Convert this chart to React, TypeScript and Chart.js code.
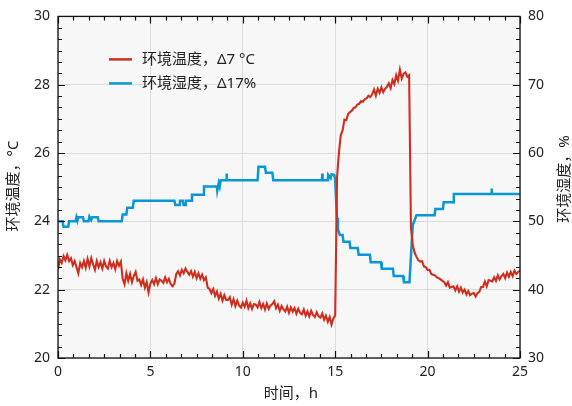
import React, { useEffect, useRef } from "react";
import { Chart, registerables } from "chart.js";

Chart.register(...registerables);

// Temperature (°C), sampled every 0.1 h from 0 to 25 h
const tempStep = 0.1;
const temperature = [
  22.6, 22.88, 22.78, 22.98, 22.86, 23.02, 22.84, 22.92, 22.72, 22.84,
  22.66, 22.48, 22.78, 22.66, 22.84, 22.64, 22.9, 22.68, 22.92, 22.74,
  22.58, 22.84, 22.66, 22.8, 22.62, 22.84, 22.68, 22.62, 22.84, 22.66,
  22.78, 22.6, 22.84, 22.7, 22.82, 22.32, 22.16, 22.48, 22.26, 22.46,
  22.22, 22.4, 22.52, 22.26, 22.3, 22.14, 22.3, 22.06, 22.22, 21.92,
  22.18, 22.28, 22.16, 22.34, 22.16, 22.3, 22.26, 22.2, 22.36, 22.22,
  22.32, 22.16, 22.1, 22.18, 22.46, 22.54, 22.42, 22.58, 22.48, 22.62,
  22.52, 22.44, 22.54, 22.38, 22.52, 22.34, 22.48, 22.32, 22.44, 22.28,
  22.36, 22.06, 22.02, 21.9, 22.02, 21.82, 21.94, 21.74, 21.88, 21.68,
  21.84, 21.7, 21.7, 21.78, 21.56, 21.72, 21.52, 21.68, 21.54, 21.48,
  21.62, 21.5, 21.68, 21.46, 21.6, 21.44, 21.58, 21.56, 21.48, 21.64,
  21.46, 21.58, 21.42, 21.6, 21.44, 21.54, 21.58, 21.66, 21.46, 21.56,
  21.38, 21.52, 21.42, 21.36, 21.5, 21.32, 21.48, 21.36, 21.46, 21.3,
  21.44, 21.32, 21.28, 21.42, 21.24, 21.36, 21.22, 21.38, 21.26, 21.2,
  21.34, 21.22, 21.18, 21.3, 21.12, 21.24, 21.06, 21.2, 20.98, 21.16,
  21.25, 25.3, 26.0, 26.52, 26.66, 26.98, 26.96, 27.14, 27.2, 27.24,
  27.32, 27.34, 27.42, 27.44, 27.52, 27.5, 27.58, 27.6, 27.68, 27.64,
  27.72, 27.86, 27.68, 27.88, 27.76, 27.92, 27.78, 27.88, 27.94, 28.04,
  27.9, 28.14, 28.02, 28.28, 28.12, 28.44, 28.18, 28.32, 28.36, 28.24,
  28.28, 23.8, 23.3, 23.08, 22.96, 22.86, 22.82, 22.84, 22.68, 22.66,
  22.58, 22.58, 22.46, 22.44, 22.42, 22.36, 22.34, 22.3, 22.26, 22.22,
  22.12, 22.22, 22.06, 22.08, 22.1, 21.98, 22.1, 21.94, 22.06, 21.92,
  22.0, 21.86, 21.96, 21.84, 21.88, 21.9, 21.8, 21.9, 21.94, 22.08,
  22.08, 22.24, 22.1, 22.28, 22.26, 22.24, 22.36, 22.26, 22.42, 22.3,
  22.4, 22.46, 22.34, 22.5, 22.38, 22.52, 22.4, 22.56, 22.46, 22.52,
  22.56,
];

// Humidity (%): times (h) and values at each step corner
const humidityTime = [
  0, 0.25, 0.3, 0.55, 0.6, 0.95, 1.0, 1.05, 1.1, 1.35, 1.4,
  1.65, 1.7, 1.8, 1.85, 2.15, 2.2,
  3.45, 3.5, 3.7, 3.75, 4.05, 4.1,
  6.3, 6.35, 6.55, 6.6, 6.75, 6.8, 6.88, 6.92,
  7.2, 7.25, 7.85, 7.9, 8.6, 8.62, 8.7, 8.75, 8.8, 9.1, 9.12, 9.14,
  10.8, 10.85, 11.2, 11.25, 11.6, 11.65,
  14.28, 14.3, 14.32, 14.6, 14.62, 14.75, 14.8, 14.95,
  15.0, 15.05, 15.1, 15.15, 15.25, 15.4, 15.45, 15.78, 15.82, 16.22, 16.27,
  16.88, 16.92, 17.48, 17.52, 18.12, 18.17, 18.67, 18.72, 19.02,
  19.1, 19.2, 19.3, 19.4, 20.38, 20.42, 20.83, 20.87, 21.38, 21.42,
  23.45, 23.47, 23.49, 25,
];
const humidity = [
  50, 50, 49.2, 49.2, 50, 50, 50.6, 50.1, 50.6, 50.6, 50,
  50, 50.7, 50.2, 50.6, 50.6, 50,
  50, 51, 51, 52, 52, 53,
  53, 52.4, 52.4, 53, 53, 52.4, 52.4, 53,
  53, 53.9, 53.9, 55.1, 55.1, 54.5, 55.6, 55.1, 56, 56, 57, 56,
  56, 58, 58, 57.1, 57.1, 56,
  56, 57, 56, 56, 56.8, 56.3, 56.9, 56.8,
  56, 53, 50.5, 48.8, 48, 48, 47, 47, 46.1, 46.1, 45.1,
  45.1, 44, 44, 43.05, 43.05, 42, 42, 41.1, 41.1,
  45, 49.5, 50.2, 50.9, 50.9, 51.8, 51.8, 52.8, 52.8, 54,
  54, 54.8, 54, 54,
];

const seriesLabels = ["环境温度，Δ7 °C", "环境湿度，Δ17%"];
const xTitle = "时间，h";
const yTitle = "环境温度，°C";
const y1Title = "环境湿度，%";

const RED = "#cf2e1f";
const BLUE = "#0896d4";
const FONT = "'Noto Sans', 'Noto Sans CJK SC', sans-serif";

const decor = {
  id: "decor",
  beforeDraw(chart: any) {
    const { ctx, chartArea: a } = chart;
    ctx.save();
    ctx.fillStyle = "#f7f7f7";
    ctx.fillRect(a.left, a.top, a.right - a.left, a.bottom - a.top);
    ctx.restore();
  },
  afterDraw(chart: any) {
    const { ctx, chartArea: a, scales } = chart;
    const x = scales.x, y = scales.y, y1 = scales.y1;
    ctx.save();
    ctx.strokeStyle = "#111";
    ctx.lineWidth = 1.3;
    ctx.strokeRect(a.left, a.top, a.right - a.left, a.bottom - a.top);
    ctx.lineWidth = 1.2;
    ctx.beginPath();
    for (let k = 0; k <= 30; k++) {
      const v = (k * 5) / 6;
      const px = Math.round(x.getPixelForValue(v)) + 0.5;
      const len = k % 6 === 0 ? 7 : 4;
      ctx.moveTo(px, a.bottom); ctx.lineTo(px, a.bottom - len);
      ctx.moveTo(px, a.top); ctx.lineTo(px, a.top + len);
    }
    for (let k = 0; k <= 30; k++) {
      const v = 20 + (k * 2) / 6;
      const py = Math.round(y.getPixelForValue(v)) + 0.5;
      const len = k % 6 === 0 ? 7 : 4;
      ctx.moveTo(a.left, py); ctx.lineTo(a.left + len, py);
    }
    for (let k = 0; k <= 30; k++) {
      const v = 30 + (k * 10) / 6;
      const py = Math.round(y1.getPixelForValue(v)) + 0.5;
      const len = k % 6 === 0 ? 7 : 4;
      ctx.moveTo(a.right, py); ctx.lineTo(a.right - len, py);
    }
    ctx.stroke();

    // legend
    ctx.font = `15px ${FONT}`;
    ctx.textBaseline = "middle";
    ctx.textAlign = "left";
    const ds = chart.data.datasets;
    const lx = a.left + 51;
    const ly = a.top + 43;
    ds.forEach((d: any, i: number) => {
      const yy = ly + i * 24;
      ctx.strokeStyle = d.borderColor;
      ctx.lineWidth = 2.5;
      ctx.beginPath();
      ctx.moveTo(lx, yy); ctx.lineTo(lx + 23, yy);
      ctx.stroke();
      ctx.fillStyle = "#222";
      ctx.fillText(d.label, lx + 33, yy);
    });

    // axis titles
    ctx.font = `15px ${FONT}`;
    ctx.fillStyle = "#222";
    ctx.textAlign = "center";
    ctx.textBaseline = "middle";
    ctx.save();
    ctx.translate(14, 186);
    ctx.rotate(-Math.PI / 2);
    ctx.fillText(yTitle, 0, 0);
    ctx.restore();
    ctx.save();
    ctx.translate(565, 179);
    ctx.rotate(-Math.PI / 2);
    ctx.fillText(y1Title, 0, 0);
    ctx.restore();
    ctx.fillText(xTitle, (a.left + a.right) / 2 + 2, 394);
    ctx.restore();
  },
};

export default function App() {
  const ref = useRef<HTMLCanvasElement>(null);
  useEffect(() => {
    if (!ref.current) return;
    const tempData = temperature.map((v, i) => ({ x: i * tempStep, y: v }));
    const humData = humidity.map((v, i) => ({ x: humidityTime[i], y: v }));
    const tickFont = { family: FONT, size: 14 };
    const chart = new Chart(ref.current, {
      type: "line",
      data: {
        datasets: [
          {
            label: seriesLabels[0],
            data: tempData,
            borderColor: RED,
            borderWidth: 2.1,
            pointRadius: 0,
            tension: 0,
            yAxisID: "y",
          },
          {
            label: seriesLabels[1],
            data: humData,
            borderColor: BLUE,
            borderWidth: 2.5,
            pointRadius: 0,
            tension: 0,
            yAxisID: "y1",
          },
        ],
      },
      options: {
        responsive: false,
        animation: false,
        layout: { padding: { top: 12, left: 0, right: 0, bottom: 0 }, autoPadding: false },
        plugins: { legend: { display: false }, tooltip: { enabled: false } },
        scales: {
          x: {
            type: "linear",
            min: 0,
            max: 25,
            ticks: { stepSize: 5, font: tickFont, color: "#222", padding: 6, maxRotation: 0 },
            grid: { color: "#dcdcdc", drawTicks: false, lineWidth: 1 },
            border: { display: false },
            afterFit: (s: any) => { s.height = 48; },
          },
          y: {
            position: "left",
            min: 20,
            max: 30,
            ticks: { stepSize: 2, font: tickFont, color: "#222", padding: 8 },
            grid: { color: "#dcdcdc", drawTicks: false, lineWidth: 1 },
            border: { display: false },
            afterFit: (s: any) => { s.width = 58; },
          },
          y1: {
            position: "right",
            min: 30,
            max: 80,
            ticks: { stepSize: 10, font: tickFont, color: "#222", padding: 8 },
            grid: { display: false, drawTicks: false },
            border: { display: false },
            afterFit: (s: any) => { s.width = 52; },
          },
        },
      } as any,
      plugins: [decor],
    });
    return () => chart.destroy();
  }, []);
  return (
    <div style={{ position: "absolute", left: 0, top: 0, width: 572, height: 406, background: "#fff" }}>
      <canvas ref={ref} width={572} height={406} style={{ display: "block" }} />
    </div>
  );
}
